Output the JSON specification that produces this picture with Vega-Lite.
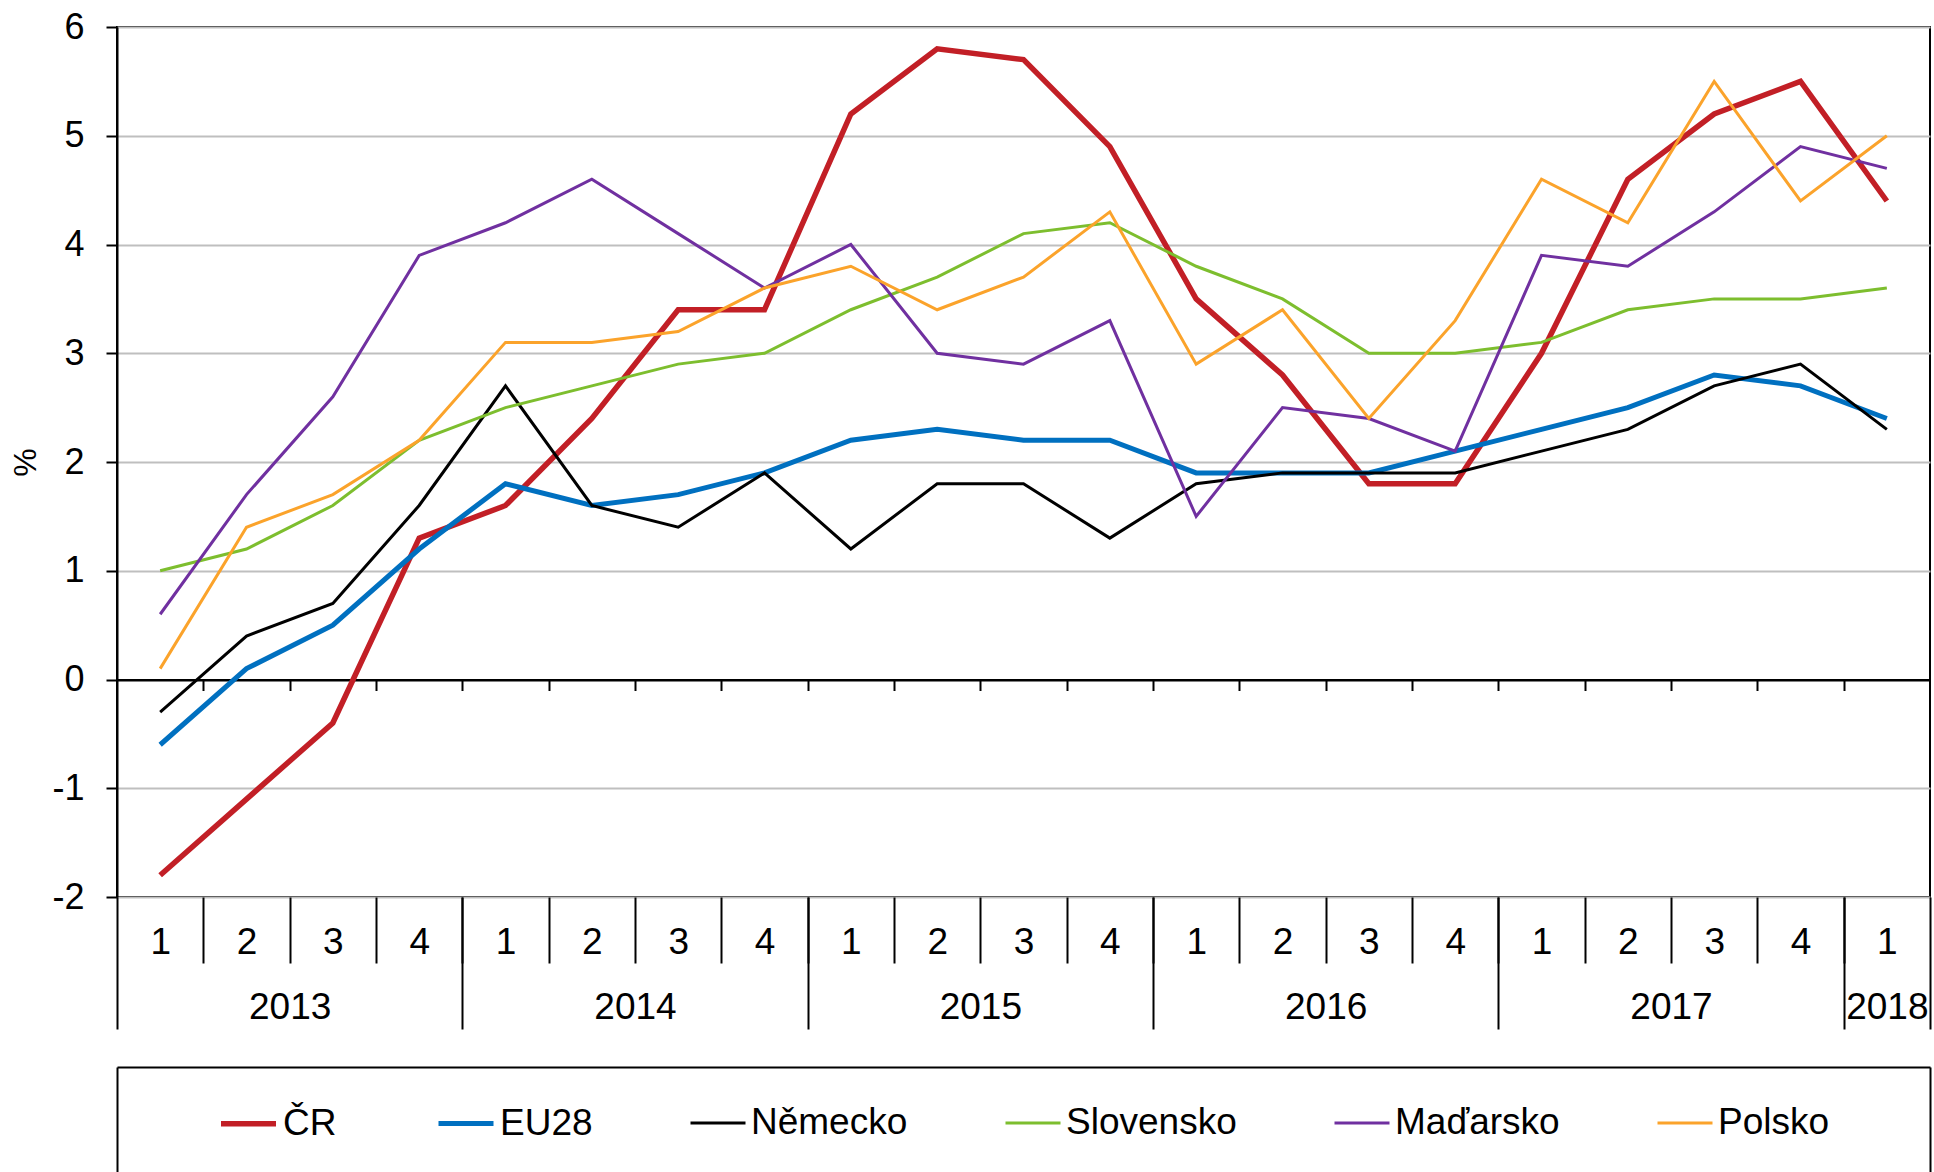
{
  "$schema": "https://vega.github.io/schema/vega-lite/v6.json",
  "width": 1813,
  "height": 870,
  "autosize": {"type": "none"},
  "padding": {"left": 117, "top": 27, "right": 4, "bottom": 275},
  "background": "white",
  "config": {
    "view": {"stroke": "black", "strokeWidth": 2},
    "font": "Liberation Sans",
    "axis": {"labelFont": "Liberation Sans", "labelColor": "black", "titleFont": "Liberation Sans", "titleColor": "black", "titleFontWeight": "normal"},
    "legend": {"orient": "none", "legendX": 101, "legendY": 1066, "direction": "horizontal", "symbolType": "stroke", "symbolSize": 3025, "labelFontSize": 37, "labelFont": "Liberation Sans", "labelColor": "black", "columnPadding": 91, "padding": 0, "labelOffset": 4, "labelLimit": 500}
  },
  "data": {"values": [
    {"q":0,"s":"ČR","v":-1.8},{"q":1,"s":"ČR","v":-1.1},{"q":2,"s":"ČR","v":-0.4},{"q":3,"s":"ČR","v":1.3},{"q":4,"s":"ČR","v":1.6},{"q":5,"s":"ČR","v":2.4},{"q":6,"s":"ČR","v":3.4},{"q":7,"s":"ČR","v":3.4},{"q":8,"s":"ČR","v":5.2},{"q":9,"s":"ČR","v":5.8},{"q":10,"s":"ČR","v":5.7},{"q":11,"s":"ČR","v":4.9},{"q":12,"s":"ČR","v":3.5},{"q":13,"s":"ČR","v":2.8},{"q":14,"s":"ČR","v":1.8},{"q":15,"s":"ČR","v":1.8},{"q":16,"s":"ČR","v":3.0},{"q":17,"s":"ČR","v":4.6},{"q":18,"s":"ČR","v":5.2},{"q":19,"s":"ČR","v":5.5},{"q":20,"s":"ČR","v":4.4},
    {"q":0,"s":"EU28","v":-0.6},{"q":1,"s":"EU28","v":0.1},{"q":2,"s":"EU28","v":0.5},{"q":3,"s":"EU28","v":1.2},{"q":4,"s":"EU28","v":1.8},{"q":5,"s":"EU28","v":1.6},{"q":6,"s":"EU28","v":1.7},{"q":7,"s":"EU28","v":1.9},{"q":8,"s":"EU28","v":2.2},{"q":9,"s":"EU28","v":2.3},{"q":10,"s":"EU28","v":2.2},{"q":11,"s":"EU28","v":2.2},{"q":12,"s":"EU28","v":1.9},{"q":13,"s":"EU28","v":1.9},{"q":14,"s":"EU28","v":1.9},{"q":15,"s":"EU28","v":2.1},{"q":16,"s":"EU28","v":2.3},{"q":17,"s":"EU28","v":2.5},{"q":18,"s":"EU28","v":2.8},{"q":19,"s":"EU28","v":2.7},{"q":20,"s":"EU28","v":2.4},
    {"q":0,"s":"Německo","v":-0.3},{"q":1,"s":"Německo","v":0.4},{"q":2,"s":"Německo","v":0.7},{"q":3,"s":"Německo","v":1.6},{"q":4,"s":"Německo","v":2.7},{"q":5,"s":"Německo","v":1.6},{"q":6,"s":"Německo","v":1.4},{"q":7,"s":"Německo","v":1.9},{"q":8,"s":"Německo","v":1.2},{"q":9,"s":"Německo","v":1.8},{"q":10,"s":"Německo","v":1.8},{"q":11,"s":"Německo","v":1.3},{"q":12,"s":"Německo","v":1.8},{"q":13,"s":"Německo","v":1.9},{"q":14,"s":"Německo","v":1.9},{"q":15,"s":"Německo","v":1.9},{"q":16,"s":"Německo","v":2.1},{"q":17,"s":"Německo","v":2.3},{"q":18,"s":"Německo","v":2.7},{"q":19,"s":"Německo","v":2.9},{"q":20,"s":"Německo","v":2.3},
    {"q":0,"s":"Slovensko","v":1.0},{"q":1,"s":"Slovensko","v":1.2},{"q":2,"s":"Slovensko","v":1.6},{"q":3,"s":"Slovensko","v":2.2},{"q":4,"s":"Slovensko","v":2.5},{"q":5,"s":"Slovensko","v":2.7},{"q":6,"s":"Slovensko","v":2.9},{"q":7,"s":"Slovensko","v":3.0},{"q":8,"s":"Slovensko","v":3.4},{"q":9,"s":"Slovensko","v":3.7},{"q":10,"s":"Slovensko","v":4.1},{"q":11,"s":"Slovensko","v":4.2},{"q":12,"s":"Slovensko","v":3.8},{"q":13,"s":"Slovensko","v":3.5},{"q":14,"s":"Slovensko","v":3.0},{"q":15,"s":"Slovensko","v":3.0},{"q":16,"s":"Slovensko","v":3.1},{"q":17,"s":"Slovensko","v":3.4},{"q":18,"s":"Slovensko","v":3.5},{"q":19,"s":"Slovensko","v":3.5},{"q":20,"s":"Slovensko","v":3.6},
    {"q":0,"s":"Maďarsko","v":0.6},{"q":1,"s":"Maďarsko","v":1.7},{"q":2,"s":"Maďarsko","v":2.6},{"q":3,"s":"Maďarsko","v":3.9},{"q":4,"s":"Maďarsko","v":4.2},{"q":5,"s":"Maďarsko","v":4.6},{"q":6,"s":"Maďarsko","v":4.1},{"q":7,"s":"Maďarsko","v":3.6},{"q":8,"s":"Maďarsko","v":4.0},{"q":9,"s":"Maďarsko","v":3.0},{"q":10,"s":"Maďarsko","v":2.9},{"q":11,"s":"Maďarsko","v":3.3},{"q":12,"s":"Maďarsko","v":1.5},{"q":13,"s":"Maďarsko","v":2.5},{"q":14,"s":"Maďarsko","v":2.4},{"q":15,"s":"Maďarsko","v":2.1},{"q":16,"s":"Maďarsko","v":3.9},{"q":17,"s":"Maďarsko","v":3.8},{"q":18,"s":"Maďarsko","v":4.3},{"q":19,"s":"Maďarsko","v":4.9},{"q":20,"s":"Maďarsko","v":4.7},
    {"q":0,"s":"Polsko","v":0.1},{"q":1,"s":"Polsko","v":1.4},{"q":2,"s":"Polsko","v":1.7},{"q":3,"s":"Polsko","v":2.2},{"q":4,"s":"Polsko","v":3.1},{"q":5,"s":"Polsko","v":3.1},{"q":6,"s":"Polsko","v":3.2},{"q":7,"s":"Polsko","v":3.6},{"q":8,"s":"Polsko","v":3.8},{"q":9,"s":"Polsko","v":3.4},{"q":10,"s":"Polsko","v":3.7},{"q":11,"s":"Polsko","v":4.3},{"q":12,"s":"Polsko","v":2.9},{"q":13,"s":"Polsko","v":3.4},{"q":14,"s":"Polsko","v":2.4},{"q":15,"s":"Polsko","v":3.3},{"q":16,"s":"Polsko","v":4.6},{"q":17,"s":"Polsko","v":4.2},{"q":18,"s":"Polsko","v":5.5},{"q":19,"s":"Polsko","v":4.4},{"q":20,"s":"Polsko","v":5.0}
  ]},
  "layer": [
    {
      "mark": {"type": "point", "opacity": 0},
      "encoding": {
        "x": {"field": "q", "type": "quantitative", "scale": {"domain": [-0.5, 20.5], "nice": false, "zero": false},
          "axis": {"orient": "bottom", "offset": -217.5, "values": [0.5,1.5,2.5,3.5,4.5,5.5,6.5,7.5,8.5,9.5,10.5,11.5,12.5,13.5,14.5,15.5,16.5,17.5,18.5,19.5], "labels": false, "ticks": true, "tickSize": 11, "tickColor": "black", "tickWidth": 2, "domain": true, "domainColor": "black", "domainWidth": 2, "grid": false, "title": null}}
      }
    },
    {
      "mark": {"type": "point", "opacity": 0},
      "encoding": {
        "x": {"field": "q", "type": "quantitative", "scale": {"domain": [-0.5, 20.5], "nice": false, "zero": false},
          "axis": {"orient": "bottom", "offset": 0, "values": [0.5,1.5,2.5,3.5,4.5,5.5,6.5,7.5,8.5,9.5,10.5,11.5,12.5,13.5,14.5,15.5,16.5,17.5,18.5,19.5], "labels": false, "ticks": true, "tickSize": 66, "tickColor": "black", "tickWidth": 2, "domain": false, "grid": false, "title": null}}
      }
    },
    {
      "mark": {"type": "point", "opacity": 0},
      "encoding": {
        "x": {"field": "q", "type": "quantitative", "scale": {"domain": [-0.5, 20.5], "nice": false, "zero": false},
          "axis": {"orient": "bottom", "offset": 0, "values": [-0.5,3.5,7.5,11.5,15.5,19.5,20.5], "labels": false, "ticks": true, "tickSize": 132, "tickColor": "black", "tickWidth": 2, "domain": false, "grid": false, "title": null}}
      }
    },
    {
      "mark": {"type": "point", "opacity": 0},
      "encoding": {
        "x": {"field": "q", "type": "quantitative", "scale": {"domain": [-0.5, 20.5], "nice": false, "zero": false},
          "axis": {"orient": "bottom", "offset": 0, "values": [1.5,5.5,9.5,13.5,17.5,20], "labelExpr": "datum.value == 20 ? '2018' : '' + (2013 + floor(datum.value / 4))", "ticks": false, "tickSize": 0, "labelPadding": 92, "labelFontSize": 37, "labelFlush": false, "labelOverlap": false, "domain": false, "grid": false, "title": null}}
      }
    },
    {
      "mark": {"type": "point", "opacity": 0},
      "encoding": {
        "x": {"field": "q", "type": "quantitative", "scale": {"domain": [-0.5, 20.5], "nice": false, "zero": false},
          "axis": {"orient": "bottom", "offset": 170, "values": [-0.5, 20.5], "labels": false, "ticks": true, "tickSize": 130, "tickColor": "black", "tickWidth": 2, "domain": true, "domainColor": "black", "domainWidth": 2, "grid": false, "title": null}}
      }
    },
    {
      "mark": {"type": "line"},
      "encoding": {
        "x": {"field": "q", "type": "quantitative", "scale": {"domain": [-0.5, 20.5], "nice": false, "zero": false},
          "axis": {"orient": "bottom", "values": [0,1,2,3,4,5,6,7,8,9,10,11,12,13,14,15,16,17,18,19,20], "labelExpr": "'' + ((datum.value % 4) + 1)", "ticks": false, "tickSize": 0, "domain": false, "grid": false, "labelFontSize": 37, "labelPadding": 27, "labelFlush": false, "labelOverlap": false, "title": null}},
        "y": {"field": "v", "type": "quantitative", "scale": {"domain": [-2, 6], "nice": false, "zero": false},
          "axis": {"values": [-2,-1,0,1,2,3,4,5,6], "labelExpr": "'' + datum.value", "title": "%", "titleFontSize": 32, "titleX": -75, "titleY": 435, "titleAngle": -90, "titleBaseline": "bottom", "titleAlign": "center", "labelFontSize": 36, "labelPadding": 22, "labelFlush": false, "labelOverlap": false, "tickSize": 11, "tickColor": "black", "tickWidth": 2, "domainColor": "black", "domainWidth": 2, "grid": true, "gridColor": {"condition": {"test": "datum.value === 0", "value": "black"}, "value": "#bfbfbf"}, "gridWidth": 2}},
        "color": {"field": "s", "type": "nominal",
          "scale": {"domain": ["ČR", "EU28", "Německo", "Slovensko", "Maďarsko", "Polsko"], "range": ["#C21F26", "#0070C0", "#000000", "#7DBE2E", "#7030A0", "#FBA32B"]},
          "legend": {"title": null}},
        "strokeWidth": {"field": "s", "type": "nominal",
          "scale": {"type": "ordinal", "domain": ["ČR", "EU28", "Německo", "Slovensko", "Maďarsko", "Polsko"], "range": [5.5, 5, 3, 3, 3, 3]},
          "legend": {"title": null}}
      }
    }
  ],
  "resolve": {"scale": {"x": "independent"}, "axis": {"x": "independent"}}
}
